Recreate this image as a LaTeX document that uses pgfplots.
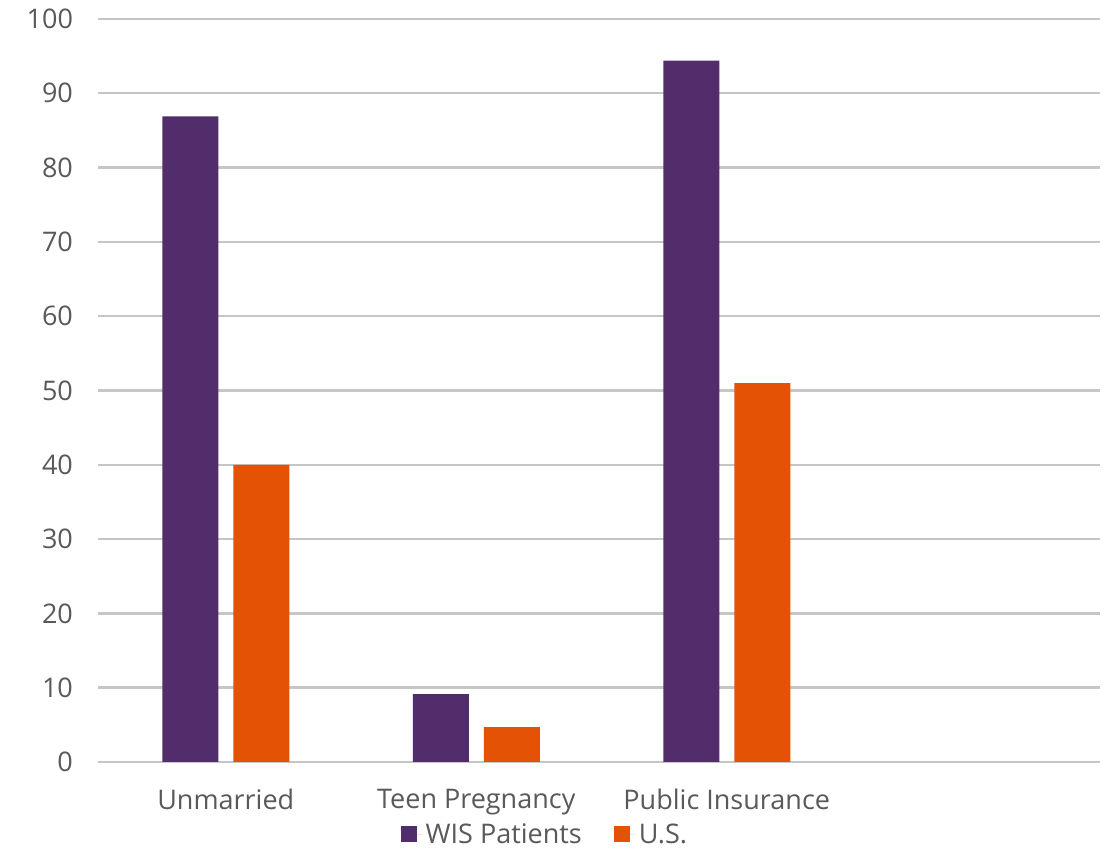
\documentclass[border=0pt]{standalone}
\usepackage{fontspec}
\setmainfont{Open Sans}
\usepackage{pgfplots}
\pgfplotsset{compat=1.18}
\definecolor{wis}{HTML}{522D6B}
\definecolor{us}{HTML}{E35205}
\definecolor{gridc}{HTML}{C6C6C6}
\definecolor{txt}{HTML}{595959}
\begin{document}
\begin{tikzpicture}
\path[use as bounding box] (-49pt,-43.5pt) rectangle (508pt,381pt);
\begin{axis}[
  at={(0,0)}, anchor=south west,
  scale only axis,
  width=501pt, height=371.5pt,
  font=\fontsize{13.5pt}{15pt}\selectfont,
  /pgf/number format/assume math mode=true,
  xmin=-0.51, xmax=3.49,
  ymin=0, ymax=100,
  ytick={0,10,...,100},
  xtick={0,1,2},
  xticklabels={Unmarried,Teen Pregnancy,Public Insurance},
  major tick length=0pt,
  axis line style={draw=none},
  ymajorgrids,
  grid style={gridc, line width=1.2pt},
  tick label style={txt},
  yticklabel style={xshift=-9pt},
  xticklabel style={yshift=-10pt},
  ybar, bar width=28pt,
  legend columns=2,
  legend style={draw=none, fill=none, at={(rel axis cs:0.447,0)}, anchor=north,
    yshift=-26.5pt, text=txt, font=\fontsize{13.5pt}{15pt}\selectfont,
    /tikz/every even column/.append style={column sep=14pt}},
  legend image code/.code={\fill[#1] (0pt,-3.5pt) rectangle (8pt,4.5pt); \path (8pt,0pt) -- (10.5pt,0pt);},
]
\addplot[fill=wis, draw=none, bar shift=-17.75pt] coordinates {(0,86.9) (1,9.15) (2,94.4)};
\addplot[fill=us, draw=none, bar shift=17.75pt] coordinates {(0,40) (1,4.7) (2,51)};
\legend{WIS Patients,U.S.}
\end{axis}
\end{tikzpicture}
\end{document}
